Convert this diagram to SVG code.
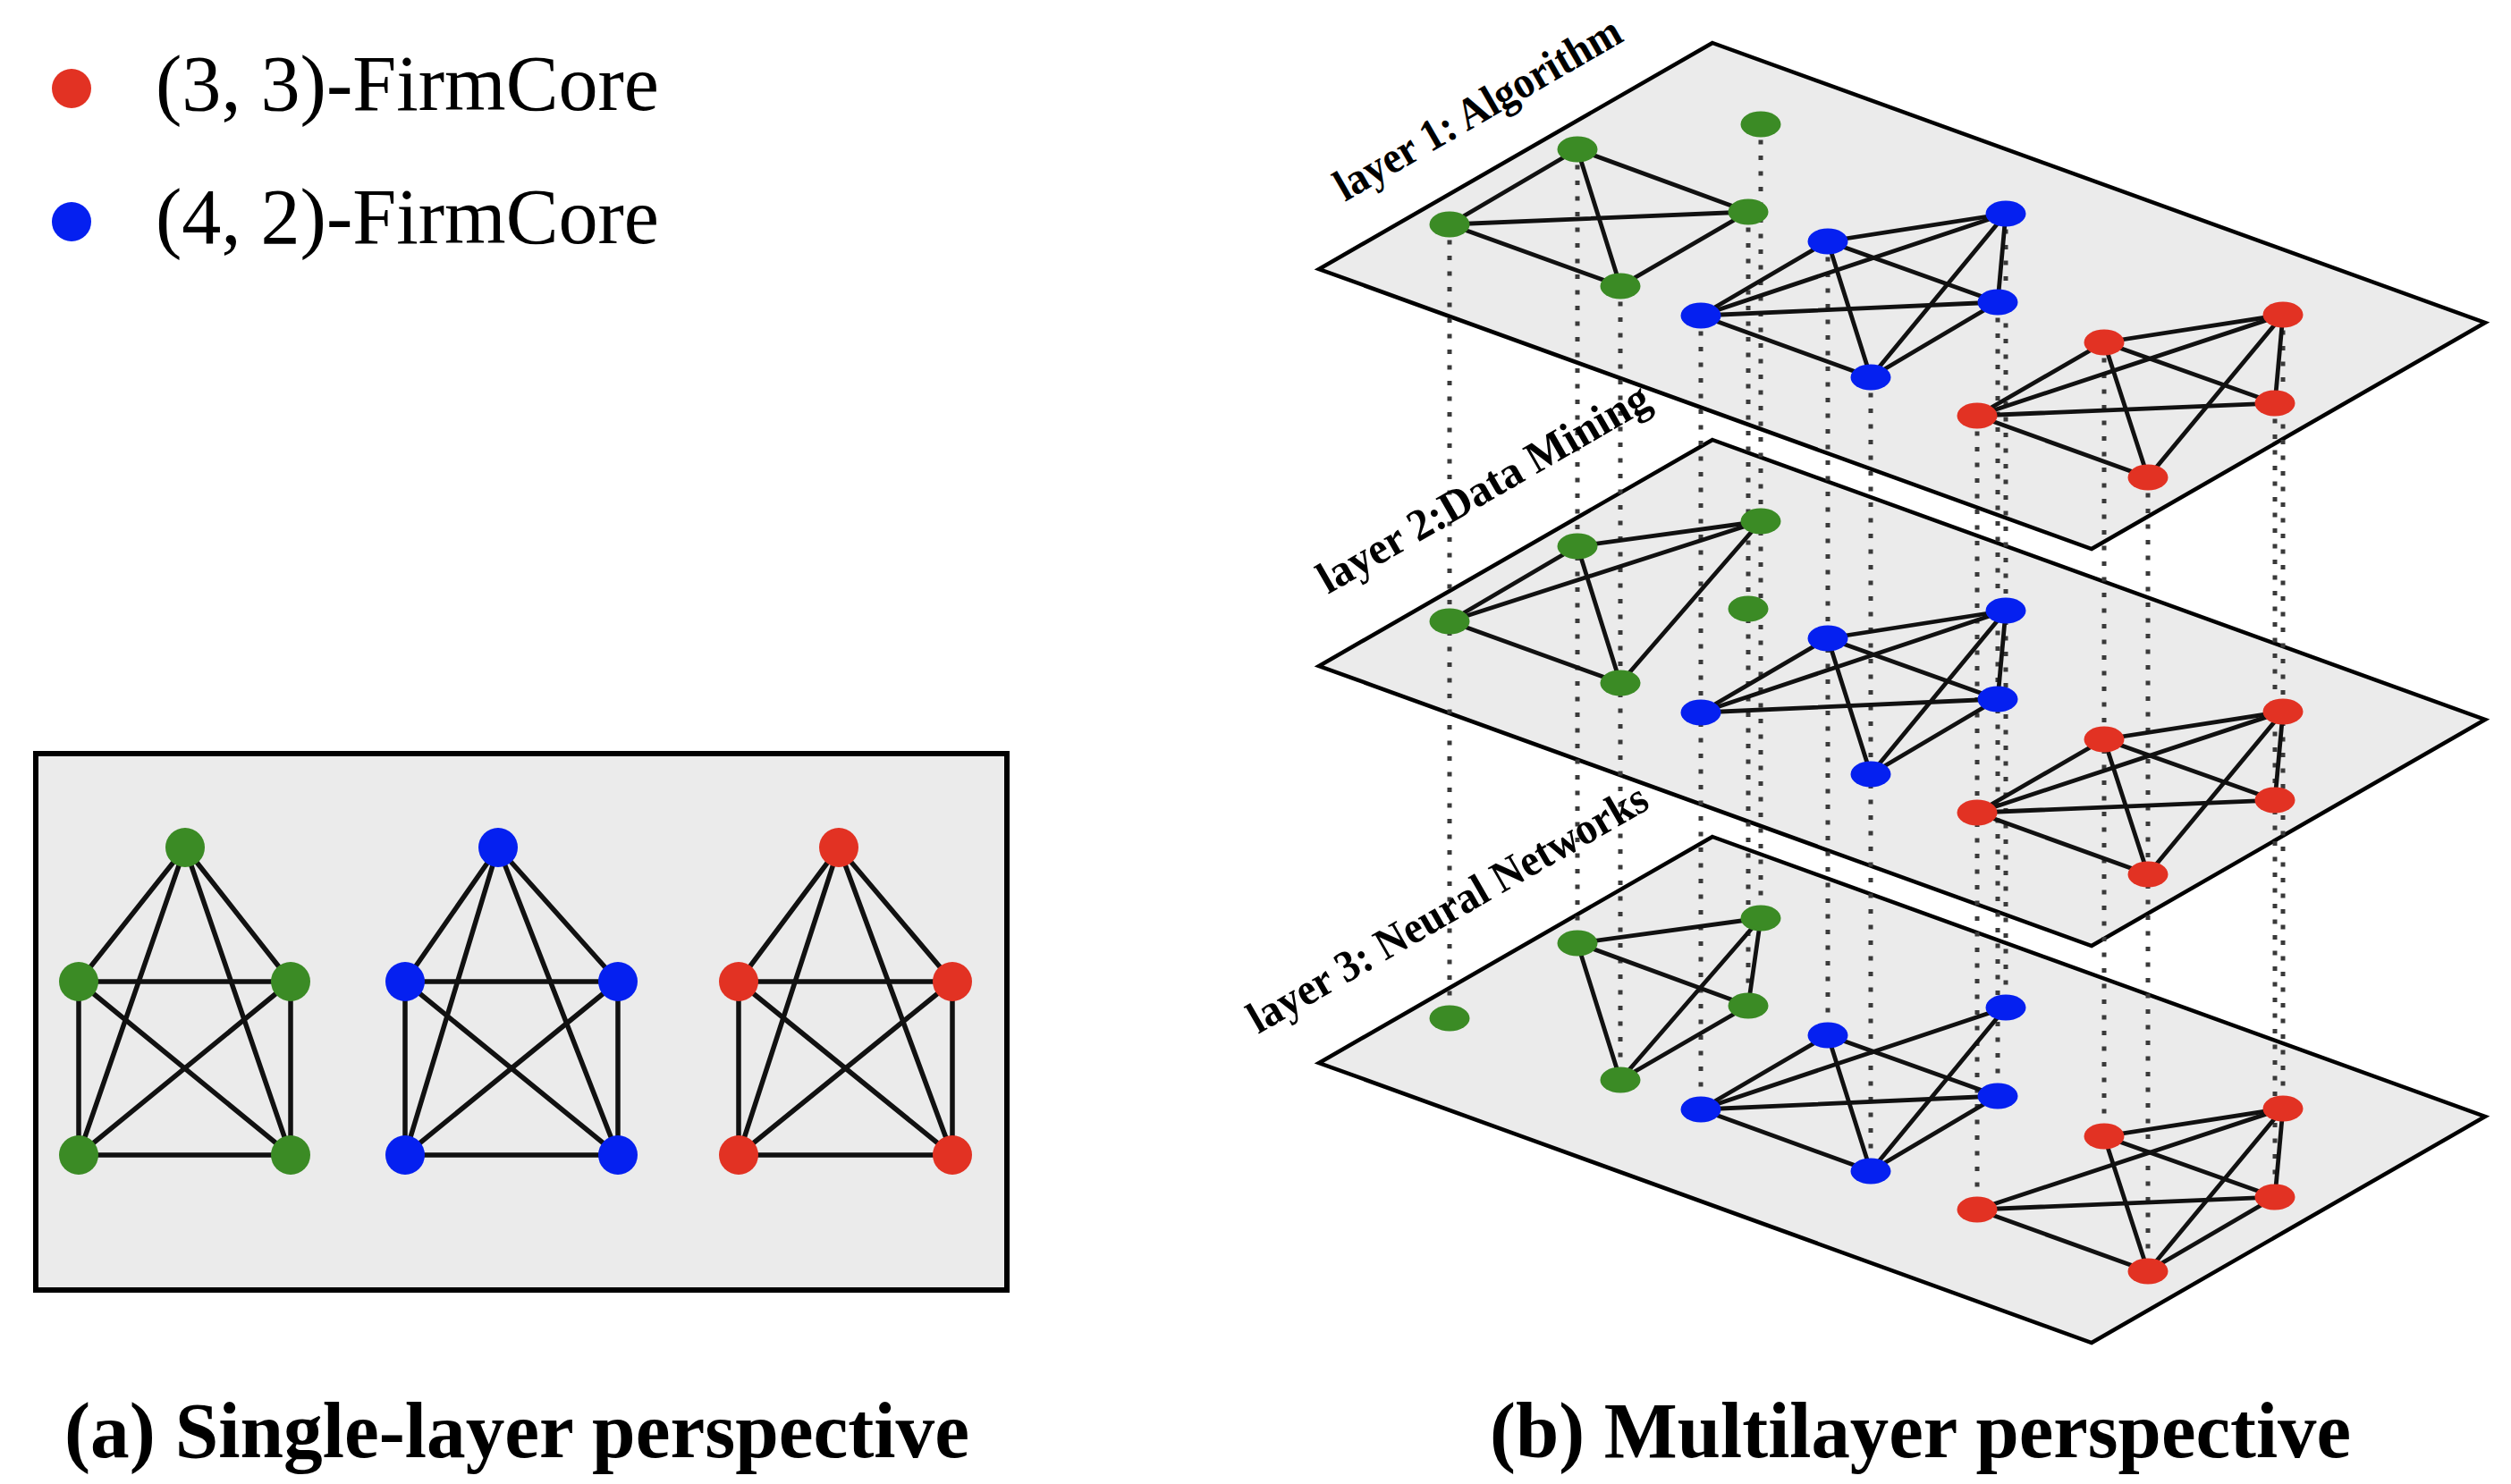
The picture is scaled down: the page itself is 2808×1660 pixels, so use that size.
<svg xmlns="http://www.w3.org/2000/svg" width="2808" height="1660" viewBox="0 0 2808 1660">
<style>
.bg{fill:#fff}
.box{fill:#ebebeb;stroke:#000;stroke-width:6}
.plane{fill:#ebebeb;stroke:#000;stroke-width:4.5;stroke-linejoin:miter}
.e{stroke:#111;stroke-width:4.8;stroke-linecap:round;fill:none}
.eL{stroke:#111;stroke-width:5.5;stroke-linecap:round;fill:none}
.dash{stroke:#3a3a3a;stroke-width:5;stroke-dasharray:5 12.5;fill:none}
.g{fill:#3b8b25}.b{fill:#0520f0}.r{fill:#e23223}
.leg{font-family:"Liberation Serif",serif;font-size:88px;fill:#000}
.lbl{font-family:"Liberation Serif",serif;font-weight:bold;font-size:50px;fill:#000}
.cap{font-family:"Liberation Serif",serif;font-weight:bold;font-size:88px;fill:#000}
</style>
<rect class="bg" x="0" y="0" width="2808" height="1660"/>

<!-- Legend -->
<g id="legend">
  <circle class="r" cx="80" cy="99" r="22"/>
  <text class="leg" x="174" y="123" textLength="563" lengthAdjust="spacingAndGlyphs">(3, 3)-FirmCore</text>
  <circle class="b" cx="80" cy="248" r="22"/>
  <text class="leg" x="174" y="272" textLength="563" lengthAdjust="spacingAndGlyphs">(4, 2)-FirmCore</text>
</g>

<!-- (a) Single-layer panel -->
<g id="single-panel">
  <rect class="box" x="40" y="843" width="1086" height="600"/>
</g>
<g id="single-connectors">
  <!-- green K5 -->
  <line class="eL" x1="207" y1="948" x2="88" y2="1098"/>
  <line class="eL" x1="207" y1="948" x2="325" y2="1098"/>
  <line class="eL" x1="207" y1="948" x2="88" y2="1292"/>
  <line class="eL" x1="207" y1="948" x2="325" y2="1292"/>
  <line class="eL" x1="88" y1="1098" x2="325" y2="1098"/>
  <line class="eL" x1="88" y1="1098" x2="88" y2="1292"/>
  <line class="eL" x1="325" y1="1098" x2="325" y2="1292"/>
  <line class="eL" x1="88" y1="1098" x2="325" y2="1292"/>
  <line class="eL" x1="325" y1="1098" x2="88" y2="1292"/>
  <line class="eL" x1="88" y1="1292" x2="325" y2="1292"/>
  <!-- blue K5 -->
  <line class="eL" x1="557" y1="948" x2="453" y2="1098"/>
  <line class="eL" x1="557" y1="948" x2="691" y2="1098"/>
  <line class="eL" x1="557" y1="948" x2="453" y2="1292"/>
  <line class="eL" x1="557" y1="948" x2="691" y2="1292"/>
  <line class="eL" x1="453" y1="1098" x2="691" y2="1098"/>
  <line class="eL" x1="453" y1="1098" x2="453" y2="1292"/>
  <line class="eL" x1="691" y1="1098" x2="691" y2="1292"/>
  <line class="eL" x1="453" y1="1098" x2="691" y2="1292"/>
  <line class="eL" x1="691" y1="1098" x2="453" y2="1292"/>
  <line class="eL" x1="453" y1="1292" x2="691" y2="1292"/>
  <!-- red K5 -->
  <line class="eL" x1="938" y1="948" x2="826" y2="1098"/>
  <line class="eL" x1="938" y1="948" x2="1065" y2="1098"/>
  <line class="eL" x1="938" y1="948" x2="826" y2="1292"/>
  <line class="eL" x1="938" y1="948" x2="1065" y2="1292"/>
  <line class="eL" x1="826" y1="1098" x2="1065" y2="1098"/>
  <line class="eL" x1="826" y1="1098" x2="826" y2="1292"/>
  <line class="eL" x1="1065" y1="1098" x2="1065" y2="1292"/>
  <line class="eL" x1="826" y1="1098" x2="1065" y2="1292"/>
  <line class="eL" x1="1065" y1="1098" x2="826" y2="1292"/>
  <line class="eL" x1="826" y1="1292" x2="1065" y2="1292"/>
</g>
<g id="single-nodes">
  <g id="sa-g1"><circle class="g" cx="207" cy="948" r="22"/></g>
  <g id="sa-g2"><circle class="g" cx="88" cy="1098" r="22"/></g>
  <g id="sa-g3"><circle class="g" cx="325" cy="1098" r="22"/></g>
  <g id="sa-g4"><circle class="g" cx="88" cy="1292" r="22"/></g>
  <g id="sa-g5"><circle class="g" cx="325" cy="1292" r="22"/></g>
  <g id="sa-b1"><circle class="b" cx="557" cy="948" r="22"/></g>
  <g id="sa-b2"><circle class="b" cx="453" cy="1098" r="22"/></g>
  <g id="sa-b3"><circle class="b" cx="691" cy="1098" r="22"/></g>
  <g id="sa-b4"><circle class="b" cx="453" cy="1292" r="22"/></g>
  <g id="sa-b5"><circle class="b" cx="691" cy="1292" r="22"/></g>
  <g id="sa-r1"><circle class="r" cx="938" cy="948" r="22"/></g>
  <g id="sa-r2"><circle class="r" cx="826" cy="1098" r="22"/></g>
  <g id="sa-r3"><circle class="r" cx="1065" cy="1098" r="22"/></g>
  <g id="sa-r4"><circle class="r" cx="826" cy="1292" r="22"/></g>
  <g id="sa-r5"><circle class="r" cx="1065" cy="1292" r="22"/></g>
</g>

<!-- (b) Multilayer planes -->
<g id="planes">
  <polygon id="plane1" class="plane" points="1915,48 2779,361 2339,614 1475,301"/>
  <polygon id="plane2" class="plane" points="1915,492 2779,805 2339,1058 1475,745"/>
  <polygon id="plane3" class="plane" points="1915,936 2779,1249 2339,1502 1475,1189"/>
</g>

<!-- inter-layer dotted connectors -->
<g id="interlayer-connectors">
  <line class="dash" x1="1621" y1="251" x2="1621" y2="1139"/>
  <line class="dash" x1="1764" y1="167" x2="1764" y2="1055"/>
  <line class="dash" x1="1812" y1="320" x2="1812" y2="1208"/>
  <line class="dash" x1="1955" y1="237" x2="1955" y2="1125"/>
  <line class="dash" x1="1969" y1="139" x2="1969" y2="1027"/>
  <line class="dash" x1="1902" y1="353" x2="1902" y2="1241"/>
  <line class="dash" x1="2044" y1="270" x2="2044" y2="1158"/>
  <line class="dash" x1="2092" y1="422" x2="2092" y2="1310"/>
  <line class="dash" x1="2234" y1="338" x2="2234" y2="1226"/>
  <line class="dash" x1="2243" y1="239" x2="2243" y2="1127"/>
  <line class="dash" x1="2211" y1="465" x2="2211" y2="1353"/>
  <line class="dash" x1="2353" y1="383" x2="2353" y2="1271"/>
  <line class="dash" x1="2402" y1="534" x2="2402" y2="1422"/>
  <line class="dash" x1="2544" y1="451" x2="2544" y2="1339"/>
  <line class="dash" x1="2553" y1="352" x2="2553" y2="1240"/>
</g>

<!-- intra-layer edges -->
<g id="layer-connectors">
  <g id="l1-edges">
    <line class="e" x1="1621" y1="251" x2="1764" y2="167"/>
    <line class="e" x1="1621" y1="251" x2="1955" y2="237"/>
    <line class="e" x1="1621" y1="251" x2="1812" y2="320"/>
    <line class="e" x1="1764" y1="167" x2="1955" y2="237"/>
    <line class="e" x1="1764" y1="167" x2="1812" y2="320"/>
    <line class="e" x1="1955" y1="237" x2="1812" y2="320"/>
    <line class="e" x1="2044" y1="270" x2="2243" y2="239"/>
    <line class="e" x1="2044" y1="270" x2="1902" y2="353"/>
    <line class="e" x1="2044" y1="270" x2="2234" y2="338"/>
    <line class="e" x1="2044" y1="270" x2="2092" y2="422"/>
    <line class="e" x1="2243" y1="239" x2="1902" y2="353"/>
    <line class="e" x1="2243" y1="239" x2="2234" y2="338"/>
    <line class="e" x1="2243" y1="239" x2="2092" y2="422"/>
    <line class="e" x1="1902" y1="353" x2="2234" y2="338"/>
    <line class="e" x1="1902" y1="353" x2="2092" y2="422"/>
    <line class="e" x1="2234" y1="338" x2="2092" y2="422"/>
    <line class="e" x1="2353" y1="383" x2="2553" y2="352"/>
    <line class="e" x1="2353" y1="383" x2="2211" y2="465"/>
    <line class="e" x1="2353" y1="383" x2="2544" y2="451"/>
    <line class="e" x1="2353" y1="383" x2="2402" y2="534"/>
    <line class="e" x1="2553" y1="352" x2="2211" y2="465"/>
    <line class="e" x1="2553" y1="352" x2="2544" y2="451"/>
    <line class="e" x1="2553" y1="352" x2="2402" y2="534"/>
    <line class="e" x1="2211" y1="465" x2="2544" y2="451"/>
    <line class="e" x1="2211" y1="465" x2="2402" y2="534"/>
  </g>
  <g id="l2-edges" transform="translate(0,444)">
    <line class="e" x1="1621" y1="251" x2="1764" y2="167"/>
    <line class="e" x1="1621" y1="251" x2="1969" y2="139"/>
    <line class="e" x1="1621" y1="251" x2="1812" y2="320"/>
    <line class="e" x1="1764" y1="167" x2="1969" y2="139"/>
    <line class="e" x1="1764" y1="167" x2="1812" y2="320"/>
    <line class="e" x1="1969" y1="139" x2="1812" y2="320"/>
    <line class="e" x1="2044" y1="270" x2="2243" y2="239"/>
    <line class="e" x1="2044" y1="270" x2="1902" y2="353"/>
    <line class="e" x1="2044" y1="270" x2="2234" y2="338"/>
    <line class="e" x1="2044" y1="270" x2="2092" y2="422"/>
    <line class="e" x1="2243" y1="239" x2="1902" y2="353"/>
    <line class="e" x1="2243" y1="239" x2="2234" y2="338"/>
    <line class="e" x1="2243" y1="239" x2="2092" y2="422"/>
    <line class="e" x1="1902" y1="353" x2="2234" y2="338"/>
    <line class="e" x1="2234" y1="338" x2="2092" y2="422"/>
    <line class="e" x1="2353" y1="383" x2="2553" y2="352"/>
    <line class="e" x1="2353" y1="383" x2="2211" y2="465"/>
    <line class="e" x1="2353" y1="383" x2="2544" y2="451"/>
    <line class="e" x1="2353" y1="383" x2="2402" y2="534"/>
    <line class="e" x1="2553" y1="352" x2="2211" y2="465"/>
    <line class="e" x1="2553" y1="352" x2="2544" y2="451"/>
    <line class="e" x1="2553" y1="352" x2="2402" y2="534"/>
    <line class="e" x1="2211" y1="465" x2="2544" y2="451"/>
    <line class="e" x1="2211" y1="465" x2="2402" y2="534"/>
  </g>
  <g id="l3-edges" transform="translate(0,888)">
    <line class="e" x1="1764" y1="167" x2="1969" y2="139"/>
    <line class="e" x1="1764" y1="167" x2="1955" y2="237"/>
    <line class="e" x1="1764" y1="167" x2="1812" y2="320"/>
    <line class="e" x1="1969" y1="139" x2="1955" y2="237"/>
    <line class="e" x1="1969" y1="139" x2="1812" y2="320"/>
    <line class="e" x1="1955" y1="237" x2="1812" y2="320"/>
    <line class="e" x1="2044" y1="270" x2="1902" y2="353"/>
    <line class="e" x1="2044" y1="270" x2="2234" y2="338"/>
    <line class="e" x1="2044" y1="270" x2="2092" y2="422"/>
    <line class="e" x1="2243" y1="239" x2="1902" y2="353"/>
    <line class="e" x1="2243" y1="239" x2="2092" y2="422"/>
    <line class="e" x1="1902" y1="353" x2="2234" y2="338"/>
    <line class="e" x1="1902" y1="353" x2="2092" y2="422"/>
    <line class="e" x1="2234" y1="338" x2="2092" y2="422"/>
    <line class="e" x1="2353" y1="383" x2="2553" y2="352"/>
    <line class="e" x1="2353" y1="383" x2="2544" y2="451"/>
    <line class="e" x1="2353" y1="383" x2="2402" y2="534"/>
    <line class="e" x1="2553" y1="352" x2="2211" y2="465"/>
    <line class="e" x1="2553" y1="352" x2="2544" y2="451"/>
    <line class="e" x1="2553" y1="352" x2="2402" y2="534"/>
    <line class="e" x1="2211" y1="465" x2="2544" y2="451"/>
    <line class="e" x1="2211" y1="465" x2="2402" y2="534"/>
    <line class="e" x1="2544" y1="451" x2="2402" y2="534"/>
  </g>
</g>

<!-- nodes of each layer -->
<g id="layer1-nodes">
  <g id="l1-g1"><ellipse class="g" cx="1621" cy="251" rx="22.5" ry="14.5"/></g>
  <g id="l1-g2"><ellipse class="g" cx="1764" cy="167" rx="22.5" ry="14.5"/></g>
  <g id="l1-g3"><ellipse class="g" cx="1955" cy="237" rx="22.5" ry="14.5"/></g>
  <g id="l1-g4"><ellipse class="g" cx="1812" cy="320" rx="22.5" ry="14.5"/></g>
  <g id="l1-g5"><ellipse class="g" cx="1969" cy="139" rx="22.5" ry="14.5"/></g>
  <g id="l1-b1"><ellipse class="b" cx="2044" cy="270" rx="22.5" ry="14.5"/></g>
  <g id="l1-b2"><ellipse class="b" cx="2243" cy="239" rx="22.5" ry="14.5"/></g>
  <g id="l1-b3"><ellipse class="b" cx="1902" cy="353" rx="22.5" ry="14.5"/></g>
  <g id="l1-b4"><ellipse class="b" cx="2234" cy="338" rx="22.5" ry="14.5"/></g>
  <g id="l1-b5"><ellipse class="b" cx="2092" cy="422" rx="22.5" ry="14.5"/></g>
  <g id="l1-r1"><ellipse class="r" cx="2353" cy="383" rx="22.5" ry="14.5"/></g>
  <g id="l1-r2"><ellipse class="r" cx="2553" cy="352" rx="22.5" ry="14.5"/></g>
  <g id="l1-r3"><ellipse class="r" cx="2211" cy="465" rx="22.5" ry="14.5"/></g>
  <g id="l1-r4"><ellipse class="r" cx="2544" cy="451" rx="22.5" ry="14.5"/></g>
  <g id="l1-r5"><ellipse class="r" cx="2402" cy="534" rx="22.5" ry="14.5"/></g>
</g>
<g id="layer2-nodes" transform="translate(0,444)">
  <g id="l2-g1"><ellipse class="g" cx="1621" cy="251" rx="22.5" ry="14.5"/></g>
  <g id="l2-g2"><ellipse class="g" cx="1764" cy="167" rx="22.5" ry="14.5"/></g>
  <g id="l2-g3"><ellipse class="g" cx="1955" cy="237" rx="22.5" ry="14.5"/></g>
  <g id="l2-g4"><ellipse class="g" cx="1812" cy="320" rx="22.5" ry="14.5"/></g>
  <g id="l2-g5"><ellipse class="g" cx="1969" cy="139" rx="22.5" ry="14.5"/></g>
  <g id="l2-b1"><ellipse class="b" cx="2044" cy="270" rx="22.5" ry="14.5"/></g>
  <g id="l2-b2"><ellipse class="b" cx="2243" cy="239" rx="22.5" ry="14.5"/></g>
  <g id="l2-b3"><ellipse class="b" cx="1902" cy="353" rx="22.5" ry="14.5"/></g>
  <g id="l2-b4"><ellipse class="b" cx="2234" cy="338" rx="22.5" ry="14.5"/></g>
  <g id="l2-b5"><ellipse class="b" cx="2092" cy="422" rx="22.5" ry="14.5"/></g>
  <g id="l2-r1"><ellipse class="r" cx="2353" cy="383" rx="22.5" ry="14.5"/></g>
  <g id="l2-r2"><ellipse class="r" cx="2553" cy="352" rx="22.5" ry="14.5"/></g>
  <g id="l2-r3"><ellipse class="r" cx="2211" cy="465" rx="22.5" ry="14.5"/></g>
  <g id="l2-r4"><ellipse class="r" cx="2544" cy="451" rx="22.5" ry="14.5"/></g>
  <g id="l2-r5"><ellipse class="r" cx="2402" cy="534" rx="22.5" ry="14.5"/></g>
</g>
<g id="layer3-nodes" transform="translate(0,888)">
  <g id="l3-g1"><ellipse class="g" cx="1621" cy="251" rx="22.5" ry="14.5"/></g>
  <g id="l3-g2"><ellipse class="g" cx="1764" cy="167" rx="22.5" ry="14.5"/></g>
  <g id="l3-g3"><ellipse class="g" cx="1955" cy="237" rx="22.5" ry="14.5"/></g>
  <g id="l3-g4"><ellipse class="g" cx="1812" cy="320" rx="22.5" ry="14.5"/></g>
  <g id="l3-g5"><ellipse class="g" cx="1969" cy="139" rx="22.5" ry="14.5"/></g>
  <g id="l3-b1"><ellipse class="b" cx="2044" cy="270" rx="22.5" ry="14.5"/></g>
  <g id="l3-b2"><ellipse class="b" cx="2243" cy="239" rx="22.5" ry="14.5"/></g>
  <g id="l3-b3"><ellipse class="b" cx="1902" cy="353" rx="22.5" ry="14.5"/></g>
  <g id="l3-b4"><ellipse class="b" cx="2234" cy="338" rx="22.5" ry="14.5"/></g>
  <g id="l3-b5"><ellipse class="b" cx="2092" cy="422" rx="22.5" ry="14.5"/></g>
  <g id="l3-r1"><ellipse class="r" cx="2353" cy="383" rx="22.5" ry="14.5"/></g>
  <g id="l3-r2"><ellipse class="r" cx="2553" cy="352" rx="22.5" ry="14.5"/></g>
  <g id="l3-r3"><ellipse class="r" cx="2211" cy="465" rx="22.5" ry="14.5"/></g>
  <g id="l3-r4"><ellipse class="r" cx="2544" cy="451" rx="22.5" ry="14.5"/></g>
  <g id="l3-r5"><ellipse class="r" cx="2402" cy="534" rx="22.5" ry="14.5"/></g>
</g>

<!-- layer labels -->
<g id="layer-labels">
  <text class="lbl" x="1504" y="226" transform="rotate(-30 1504 226)" textLength="362" lengthAdjust="spacingAndGlyphs">layer 1: Algorithm</text>
  <text class="lbl" x="1485" y="665" transform="rotate(-30 1485 665)" textLength="420" lengthAdjust="spacingAndGlyphs">layer 2:Data Mining</text>
  <text class="lbl" x="1407" y="1157" transform="rotate(-30 1407 1157)" textLength="508" lengthAdjust="spacingAndGlyphs">layer 3: Neural Networks</text>
</g>

<!-- captions -->
<g id="captions">
  <text class="cap" x="72" y="1630" textLength="1012" lengthAdjust="spacingAndGlyphs">(a) Single-layer perspective</text>
  <text class="cap" x="1666" y="1630" textLength="963" lengthAdjust="spacingAndGlyphs">(b) Multilayer perspective</text>
</g>
</svg>
